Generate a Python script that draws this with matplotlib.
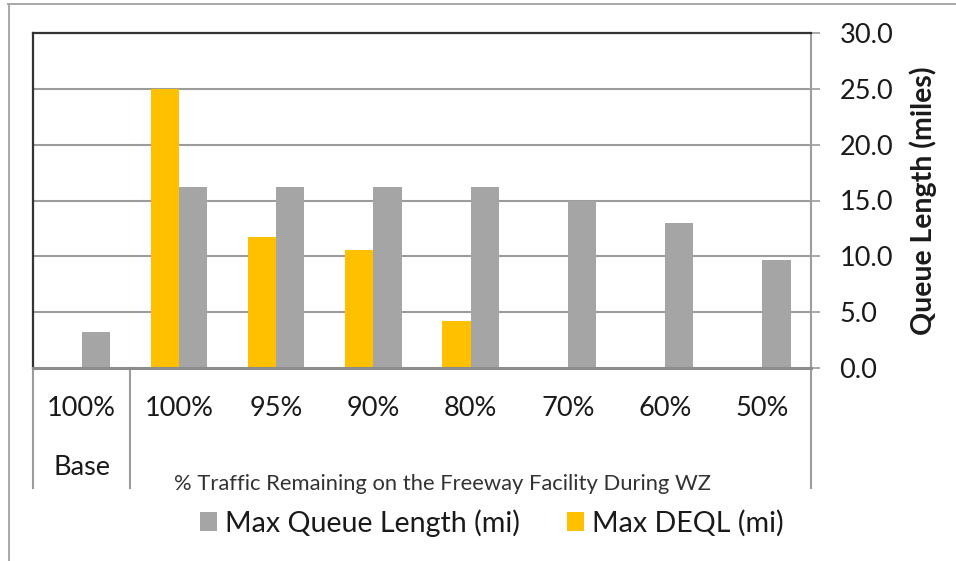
import matplotlib
matplotlib.use("Agg")
import matplotlib.pyplot as plt
from matplotlib.patches import Patch
from matplotlib.lines import Line2D
import numpy as np

plt.rcParams['font.family'] = ['Lato', 'DejaVu Sans']

categories = ["100%", "100%", "95%", "90%", "80%", "70%", "60%", "50%"]
group_label = "Base"
max_queue_length = [3.2, 16.2, 16.2, 16.2, 16.2, 15.0, 13.0, 9.7]
max_deql = [0.0, 25.0, 11.7, 10.6, 4.2, 0.0, 0.0, 0.0]
y_ticks = [0, 5, 10, 15, 20, 25, 30]

GRAY = "#a5a5a5"
YELLOW = "#ffc000"
LINE_GRAY = "#9c9c9c"
TEXT = "#1a1a1a"

W, H = 956, 561
fig = plt.figure(figsize=(W / 100, H / 100), dpi=100)
fig.patch.set_facecolor("white")

# outer chart frame (top and left edges)
fig.add_artist(Line2D([8 / W, 1.0], [1 - 4 / H, 1 - 4 / H], transform=fig.transFigure,
                      color="#a8a8a8", lw=1.4))
fig.add_artist(Line2D([8.5 / W, 8.5 / W], [0, 1 - 4 / H], transform=fig.transFigure,
                      color="#a8a8a8", lw=1.4))

left, right, top, bottom = 33, 811, 33, 368
ax = fig.add_axes([left / W, 1 - bottom / H, (right - left) / W, (bottom - top) / H])

x = np.arange(len(categories))
bw = 0.29
ax.bar(x - bw / 2, max_deql, width=bw, color=YELLOW, zorder=3)
ax.bar(x + bw / 2, max_queue_length, width=bw, color=GRAY, zorder=3)

ax.set_xlim(-0.5, len(categories) - 0.5)
ax.set_ylim(0, 30)

for yv in y_ticks[1:-1]:
    ax.axhline(yv, color=LINE_GRAY, lw=1.5, zorder=1)

# spines: dark plot-area border on top/left, gray value and category axes
ax.spines["top"].set_color("#333333")
ax.spines["top"].set_linewidth(1.6)
ax.spines["left"].set_color("#333333")
ax.spines["left"].set_linewidth(1.6)
ax.spines["right"].set_color(LINE_GRAY)
ax.spines["right"].set_linewidth(1.5)
ax.spines["bottom"].set_color("#8c8c8c")
ax.spines["bottom"].set_linewidth(2.2)
ax.spines["bottom"].set_zorder(4)

ax.yaxis.tick_right()
ax.set_yticks(y_ticks)
ax.set_yticklabels([f"{v:.1f}" for v in y_ticks])
ax.tick_params(axis="y", which="both", direction="out", length=6.5, width=1.2,
               color=LINE_GRAY, pad=14, labelsize=19.5, labelcolor=TEXT, left=False)

ax.set_xticks([])
# category labels below the axis
for xi, lab in zip(x, categories):
    ax.annotate(lab, xy=(xi, 0), xycoords=("data", "axes fraction"),
                xytext=(0, -29.5), textcoords="offset points",
                ha="center", va="center", fontsize=19.5, color=TEXT,
                annotation_clip=False)
ax.annotate(group_label, xy=(0, 0), xycoords=("data", "axes fraction"),
            xytext=(0, -71.5), textcoords="offset points",
            ha="center", va="center", fontsize=19.5, color=TEXT,
            annotation_clip=False)

# multi-level category dividers
drop = 120 / (bottom - top)
for xd in [-0.5, 0.5, len(categories) - 0.5]:
    ax.add_line(Line2D([xd, xd], [0, -drop], transform=ax.get_xaxis_transform(),
                       color=LINE_GRAY, lw=1.5, clip_on=False))

fig.text(443 / W, 1 - 484 / H, "% Traffic Remaining on the Freeway Facility During WZ",
         ha="center", va="center", fontsize=15.8, color="#333333")

fig.text(923 / W, 1 - 201 / H, "Queue Length (miles)", rotation=90,
         ha="center", va="center", fontsize=20.5, fontweight="bold", color=TEXT)

handles = [Patch(facecolor=GRAY, edgecolor="none", label="Max Queue Length (mi)"),
           Patch(facecolor=YELLOW, edgecolor="none", label="Max DEQL (mi)")]
fig.legend(handles=handles, loc="center", bbox_to_anchor=(492 / W, 1 - 523 / H),
           ncol=2, frameon=False, fontsize=20.6, handlelength=0.6, handleheight=0.65,
           handletextpad=0.28, columnspacing=1.65, labelcolor=TEXT)

fig.savefig("out.png", dpi=100, facecolor="white")
